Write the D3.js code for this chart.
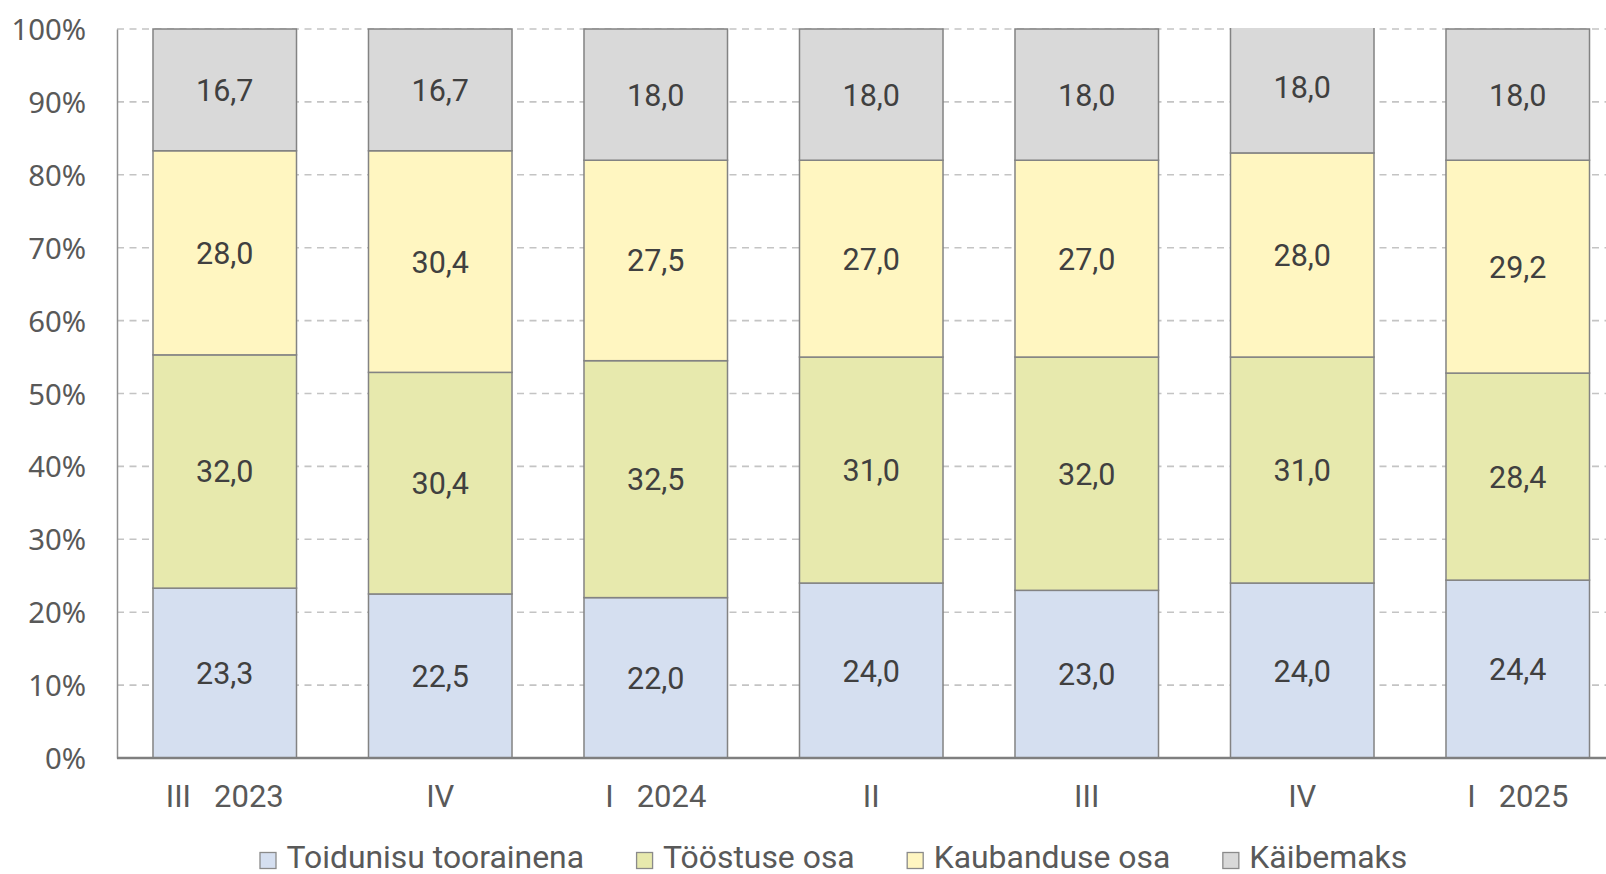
<!DOCTYPE html>
<html>
<head>
<meta charset="utf-8">
<script src="https://cdn.jsdelivr.net/npm/d3@7"></script>
<style>
  html, body { margin: 0; padding: 0; background: #ffffff; }
  svg { display: block; font-family: Roboto, "Liberation Sans", sans-serif; }
</style>
</head>
<body>
<svg id="chart" width="1606" height="874"></svg>
<script>
// ---- data ----
const categories = ["III   2023", "IV", "I   2024", "II", "III", "IV", "I   2025"];
const seriesNames = ["Toidunisu toorainena", "Tööstuse osa", "Kaubanduse osa", "Käibemaks"];
const toidunisu = [23.3, 22.5, 22.0, 24.0, 23.0, 24.0, 24.4];
const toostus   = [32.0, 30.4, 32.5, 31.0, 32.0, 31.0, 28.4];
const kaubandus = [28.0, 30.4, 27.5, 27.0, 27.0, 28.0, 29.2];
const kaibemaks = [16.7, 16.7, 18.0, 18.0, 18.0, 18.0, 18.0];
const yTicks = [0, 10, 20, 30, 40, 50, 60, 70, 80, 90, 100];
const colors = ["#d5dff0", "#e7e9ad", "#fff6c1", "#d9d9d9"];

(function () {
// ---- layout ----
const W = 1606, H = 874;
const mLeft = 117, mTop = 29, mBottom = 758;
const step = 215.5;
const svg = d3.select("#chart");

const rows = categories.map((c, i) => ({
  idx: i,
  [seriesNames[0]]: toidunisu[i],
  [seriesNames[1]]: toostus[i],
  [seriesNames[2]]: kaubandus[i],
  [seriesNames[3]]: kaibemaks[i]
}));
const stacked = d3.stack().keys(seriesNames)(rows);

const x = d3.scaleBand().domain(d3.range(categories.length))
  .range([mLeft, mLeft + step * categories.length])
  .paddingInner(0.334).paddingOuter(0.167);
const y = d3.scaleLinear().domain([0, 100]).range([mBottom, mTop]);
const color = d3.scaleOrdinal().domain(seriesNames).range(colors);

// gridlines
svg.append("g")
  .selectAll("line").data(yTicks.filter(t => t > 0)).join("line")
  .attr("x1", mLeft).attr("x2", W)
  .attr("y1", d => y(d)).attr("y2", d => y(d))
  .attr("stroke", "#c4c4c4").attr("stroke-width", 1.6)
  .attr("stroke-dasharray", "7,5.5");

// y axis
const yAxis = d3.axisLeft(y).tickValues(yTicks).tickSize(0).tickPadding(31)
  .tickFormat(d => d + "%");
const gy = svg.append("g").attr("transform", `translate(${mLeft},0)`).call(yAxis);
gy.select(".domain").attr("stroke", "#8f8f8f").attr("stroke-width", 1.5);
gy.selectAll("text").attr("font-size", 29.3).attr("fill", "#595959")
  .attr("font-family", "'Noto Sans', 'Open Sans', sans-serif").attr("dy", "0.36em");

// clip for bars at 100%
svg.append("clipPath").attr("id", "plotclip")
  .append("rect").attr("x", 0).attr("y", y(100) - 1).attr("width", W).attr("height", mBottom - y(100) + 2);

const gBars = svg.append("g").attr("clip-path", "url(#plotclip)");
gBars.selectAll("g").data(stacked).join("g")
  .attr("fill", d => color(d.key))
  .selectAll("rect").data(d => d).join("rect")
  .attr("x", d => x(d.data.idx))
  .attr("width", x.bandwidth())
  .attr("y", d => y(d[1]))
  .attr("height", d => y(d[0]) - y(d[1]))
  .attr("stroke", "#838383").attr("stroke-width", 1.5);

// data labels
const fmt = v => d3.format(".1f")(v).replace(".", ",");
svg.append("g").selectAll("g").data(stacked).join("g")
  .selectAll("text").data(d => d.map(p => ({p, key: d.key}))).join("text")
  .attr("x", d => x(d.p.data.idx) + x.bandwidth() / 2)
  .attr("y", d => (y(d.p[0]) + y(d.p[1])) / 2)
  .attr("dy", "0.36em")
  .attr("text-anchor", "middle")
  .attr("font-size", 30.5).attr("fill", "#404040")
  .text(d => fmt(d.p.data[d.key]));

// x axis
const xAxis = d3.axisBottom(x).tickSize(0).tickPadding(27)
  .tickFormat(i => categories[i]);
const gx = svg.append("g").attr("transform", `translate(0,${mBottom})`).call(xAxis);
gx.select(".domain").attr("stroke", "#7f7f7f").attr("stroke-width", 2.5)
  .attr("d", `M${mLeft},0H${W}`);
gx.selectAll("text").attr("font-size", 31).attr("fill", "#595959")
  .attr("font-family", "Roboto").attr("dy", "0.71em")
  .style("white-space", "pre");

// legend
const leg = svg.append("g");
let lx = 260;
seriesNames.forEach((name, i) => {
  const g = leg.append("g");
  g.append("rect").attr("x", lx).attr("y", 852.5).attr("width", 16).attr("height", 16)
    .attr("fill", colors[i]).attr("stroke", "#8a8a8a").attr("stroke-width", 1.3);
  const t = g.append("text").attr("x", lx + 26.5).attr("y", 868)
    .attr("font-size", 31.9).attr("fill", "#595959").text(name);
  lx += 26.5 + t.node().getComputedTextLength() + 52.5;
});
})();
</script>
</body>
</html>
